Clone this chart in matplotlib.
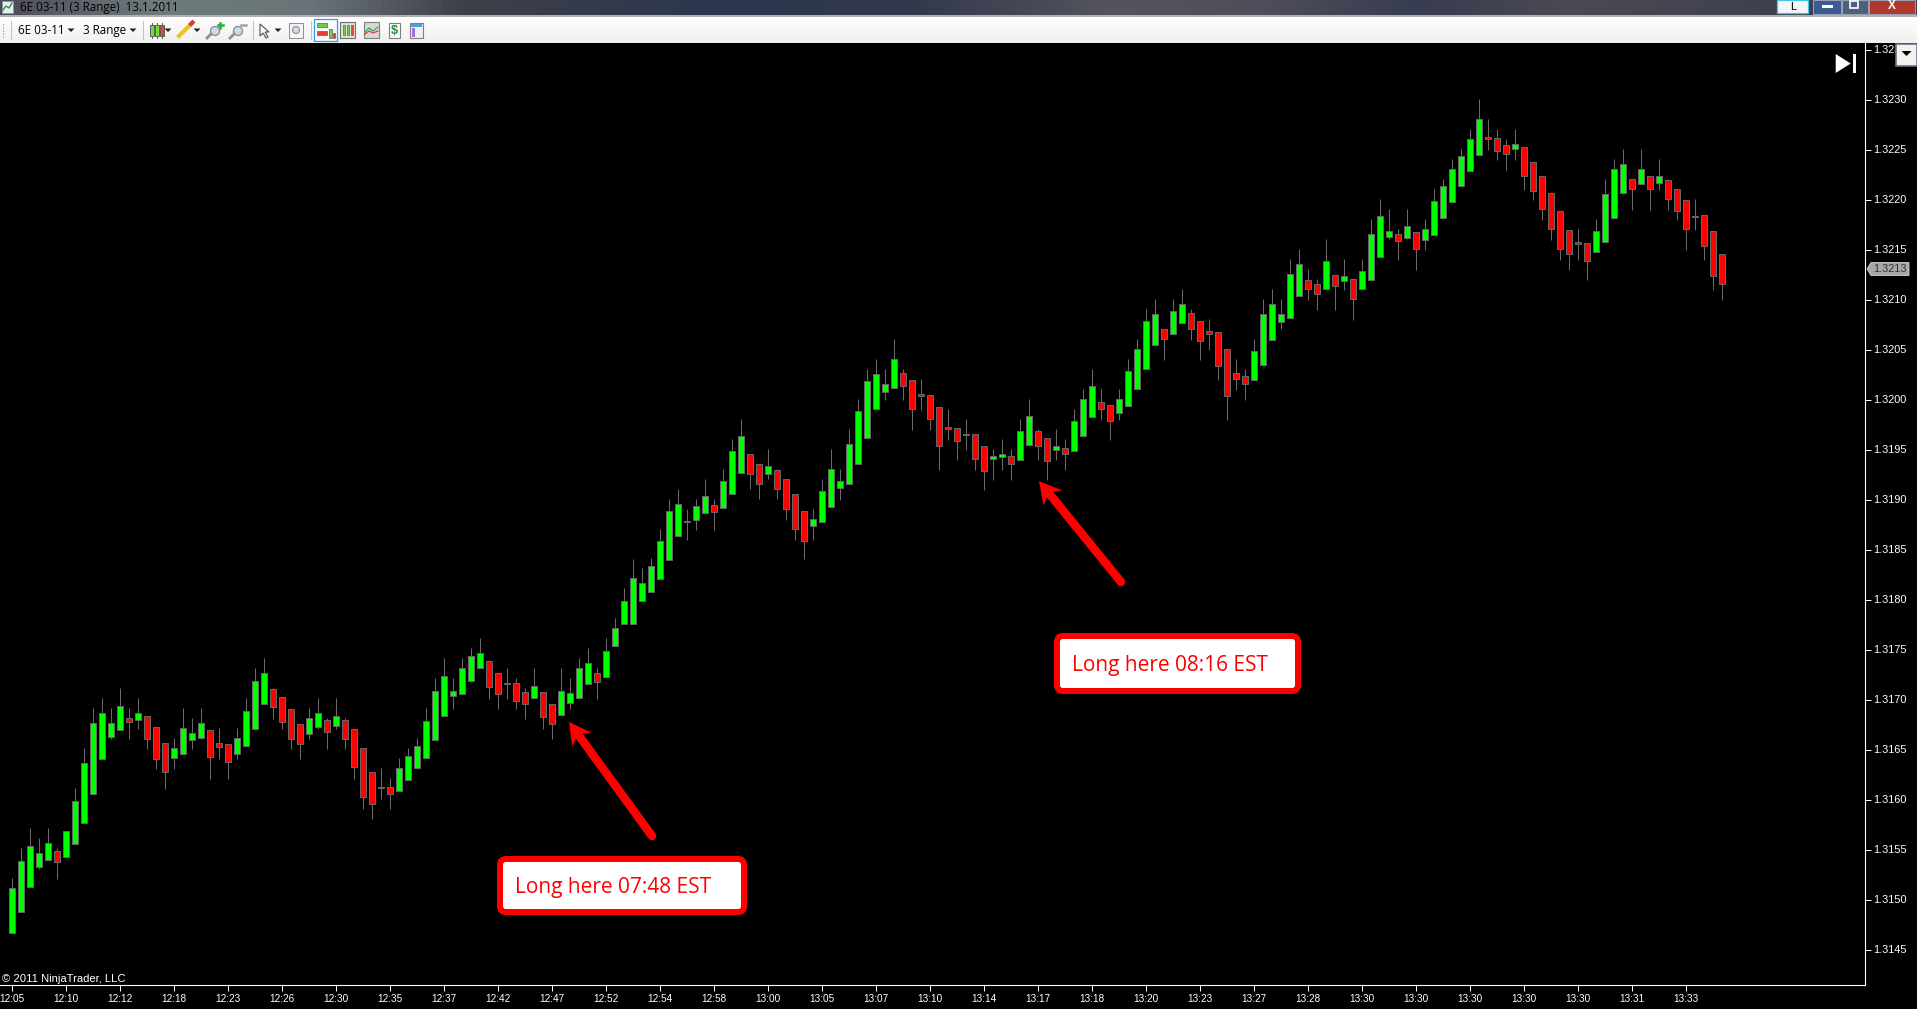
import numpy as np
import matplotlib
matplotlib.use("Agg")
import matplotlib.pyplot as plt
from matplotlib.patches import FancyBboxPatch, Polygon, Rectangle
from matplotlib.colors import LinearSegmentedColormap

# ---- data: prices are pips above the base price ----
BASE_PRICE = 1.3100
PIP = 0.0001
directions = ("GGGGGRGGGG" "GGGRGRRRGG" "GGRRRGGGGR" "RRRGGRGRRR" "RDRGGGGGGG"
              "GGGRRDRRGR" "RGGGGRGGGG" "GGGGGDGGRG" "GGRRGRRRRG" "GGGGGGGGGR"
              "RRRRRRDRRG" "GRGGRRGRGG" "GRRGGGGGRG" "GRRRRRRRGG" "GGGGRRGRGR"
              "GGGGRGRGGG" "GGGGRRRGRR" "RRRRRRGGGG" "RGRGRRRDRR" "R")
highs = [52.2,55.2,57.2,56.2,57.2,55.2,56.9,61.2,65.2,69.2,
         70.2,69.2,71.2,69.2,70.2,68.4,67.3,65.7,66.2,69.2,
         68.2,69.2,67.0,67.2,65.6,67.2,70.2,73.2,74.2,71.2,
         70.3,69.1,67.6,69.2,70.2,68.2,70.2,68.2,67.1,65.2,
         62.8,63.2,62.2,64.2,65.2,66.2,69.2,72.2,74.2,72.2,
         74.2,75.2,76.2,73.9,72.7,73.2,72.2,71.2,73.2,70.8,
         69.6,73.2,72.2,74.2,75.2,73.2,76.2,78.2,81.2,84.1,
         83.2,84.2,87.1,90.1,91.1,89.1,90.1,92.1,90.1,93.1,
         96.1,98.1,94.6,93.6,95.1,93.1,92.1,90.6,88.9,89.1,
         92.1,95.1,93.1,97.1,100.1,103.1,104.1,103.1,106.1,103.1,
         102.0,102.1,100.5,99.3,99.1,97.2,98.1,96.6,95.4,95.1,
         96.1,95.1,98.1,100.1,97.1,96.2,97.1,96.1,99.1,101.1,
         103.1,101.1,99.5,101.1,104.1,106.1,109.1,110.1,107.1,110.1,
         111.1,109.1,107.9,108.1,106.8,105.1,104.1,103.1,106.1,110.1,
         111.1,110.1,114.1,115.1,113.1,112.1,116.1,112.5,114.1,112.1,
         114.1,118.1,120.1,119.1,117.1,119.1,116.8,118.1,121.1,122.1,
         124.1,125.1,127.1,130.1,128.1,127.1,126.1,127.1,125.3,123.8,
         122.4,120.7,118.9,117.0,117.1,115.7,118.1,122.1,124.1,125.1,
         122.1,125.1,122.4,124.1,122.1,121.1,120.0,120.1,118.5,116.9,
         114.6]
body_tops = [51.2,53.9,55.4,54.7,55.7,54.9,56.9,59.9,63.7,67.7,
             68.7,67.7,69.4,68.2,68.7,68.4,67.3,65.7,65.2,67.2,
             66.7,67.7,67.0,65.7,65.6,66.2,68.9,71.9,72.7,71.1,
             70.3,69.1,67.6,68.2,68.7,68.0,68.4,68.0,67.1,65.2,
             62.8,61.3,61.3,63.2,64.4,65.4,67.9,70.9,72.4,70.9,
             73.2,74.4,74.7,73.9,72.7,71.7,71.7,70.8,71.4,70.8,
             69.6,70.9,70.7,73.2,73.7,72.7,74.9,77.2,79.9,82.2,
             81.7,83.4,85.9,88.9,89.6,87.9,89.4,90.4,89.5,91.9,
             94.9,96.4,94.6,93.6,93.4,93.0,92.1,90.6,88.9,88.1,
             90.9,93.1,91.9,95.6,98.9,101.9,102.6,101.6,104.1,102.7,
             102.0,100.6,100.5,99.3,97.3,97.2,96.6,96.6,95.4,94.4,
             94.6,94.4,96.9,98.4,96.9,96.2,95.4,95.2,97.9,100.1,
             101.4,99.8,99.5,100.1,102.9,105.1,107.9,108.6,107.1,108.9,
             109.6,108.7,107.9,106.9,106.8,105.1,102.7,102.4,104.9,108.6,
             109.6,108.6,112.6,113.6,112.0,111.6,113.9,112.5,112.4,112.1,
             112.9,116.6,118.4,116.9,116.6,117.4,116.8,117.1,119.9,121.4,
             123.1,124.4,126.1,128.1,126.3,126.2,125.5,125.6,125.3,123.8,
             122.4,120.7,118.9,117.0,115.8,115.7,116.9,120.6,123.1,123.6,
             122.1,123.1,122.4,122.4,122.0,121.1,120.0,118.4,118.5,116.9,
             114.6]
body_bottoms = [46.7,48.8,51.3,53.3,54.0,53.8,54.3,55.6,57.7,60.6,
                64.1,66.3,67.0,67.8,68.0,66.1,64.1,62.8,64.2,64.6,
                66.0,66.2,64.3,65.3,63.8,64.6,65.4,67.1,69.6,69.3,
                67.8,66.1,65.6,66.6,67.3,66.8,67.4,66.1,63.3,60.3,
                59.6,61.2,60.6,60.9,62.0,63.2,64.2,66.0,68.4,70.4,
                70.6,71.9,73.2,71.3,70.6,71.6,69.9,69.6,70.2,68.3,
                67.6,68.5,69.7,70.2,71.6,71.8,72.3,75.4,77.6,77.6,
                79.9,80.8,82.1,84.0,86.4,87.8,88.0,88.7,88.8,89.2,
                90.6,92.7,92.6,91.6,92.6,91.1,89.1,87.1,85.9,87.4,
                87.8,89.3,91.2,91.6,93.6,96.2,99.1,100.8,101.2,101.4,
                99.1,100.4,98.1,95.4,97.1,95.9,96.5,94.1,92.9,94.1,
                94.3,93.6,94.0,95.5,95.4,93.9,95.0,94.6,94.9,96.4,
                98.3,99.1,97.9,98.7,99.4,101.1,103.1,105.5,106.1,106.6,
                107.7,107.1,105.9,106.6,103.4,100.4,102.1,101.6,102.0,103.5,
                106.0,107.8,108.2,110.4,111.1,110.6,111.1,111.4,111.9,110.1,
                111.1,112.0,114.3,116.3,115.9,116.2,115.1,116.0,116.5,118.2,
                119.8,121.4,122.9,124.5,126.1,124.9,124.6,125.1,122.4,120.9,
                119.1,117.1,115.1,114.6,115.6,113.9,114.8,115.8,118.2,120.7,
                121.1,121.6,121.1,121.7,120.1,118.9,117.1,118.3,115.4,112.4,
                111.6]
lows = [46.7,48.8,51.3,53.1,54.0,52.1,54.3,55.6,57.7,60.6,
        64.1,66.1,67.0,66.1,67.1,65.1,63.1,61.1,63.1,64.6,
        65.1,66.1,62.1,64.1,62.1,64.1,65.4,67.1,69.6,68.1,
        67.1,65.1,64.1,66.1,67.1,65.1,67.1,65.1,62.1,59.1,
        58.1,60.1,59.1,60.9,62.0,63.1,64.2,66.0,68.4,69.1,
        70.6,71.9,73.2,70.1,69.1,70.1,69.1,68.1,70.2,67.1,
        66.1,68.5,69.1,70.2,71.6,70.1,72.3,75.4,77.6,77.6,
        79.9,80.8,82.1,84.0,86.4,86.0,87.0,88.7,87.0,89.2,
        90.6,92.7,91.1,90.1,92.1,90.1,88.0,86.0,84.1,86.0,
        87.8,89.3,90.0,91.6,93.6,96.2,99.1,100.0,101.2,100.0,
        97.0,99.0,97.0,93.0,96.0,94.0,95.0,93.0,91.0,92.0,
        93.0,92.0,94.0,95.5,94.0,92.0,94.0,93.0,94.9,96.4,
        98.3,98.0,96.0,98.0,99.4,101.1,103.1,105.5,104.0,106.6,
        107.7,106.0,104.0,105.0,102.0,98.0,101.0,100.0,102.0,103.5,
        106.0,107.1,108.2,110.4,110.0,109.0,111.1,109.0,111.0,108.0,
        111.1,112.0,114.3,116.1,114.0,116.1,113.0,115.0,116.5,118.2,
        119.8,121.4,122.9,124.5,125.0,124.0,123.0,124.0,121.0,120.0,
        118.0,116.0,114.0,113.0,114.0,112.0,114.8,115.8,118.2,120.7,
        119.0,121.6,119.0,121.0,119.0,118.0,115.0,117.0,114.0,111.0,
        110.0]
time_labels = ["12:05","12:10","12:12","12:18","12:23","12:26","12:30","12:35",
               "12:37","12:42","12:47","12:52","12:54","12:58","13:00","13:05",
               "13:07","13:10","13:14","13:17","13:18","13:20","13:23","13:27",
               "13:28","13:30","13:30","13:30","13:30","13:30","13:31","13:33"]
price_ticks = [1.3145,1.3150,1.3155,1.3160,1.3165,1.3170,1.3175,1.3180,1.3185,1.3190,
               1.3195,1.3200,1.3205,1.3210,1.3215,1.3220,1.3225,1.3230,1.3235]
LAST_PRICE = 1.3213
TICK_EVERY = 6

# ---- layout ----
W, H = 1917, 1009
PX_RIGHT, PX_TOP, PX_BOTTOM = 1865.0, 43.0, 985.0
BAR_SPACING, FIRST_BAR_PX = 9.0, 12.0
px = 0.72
SANS = ["Liberation Sans", "DejaVu Sans"]
UI = ["Open Sans", "DejaVu Sans"]

fig = plt.figure(figsize=(W / 100, H / 100), dpi=100, facecolor="black")
ax = fig.add_axes([0, (H - PX_BOTTOM) / H, PX_RIGHT / W, (PX_BOTTOM - PX_TOP) / H])
ax.set_facecolor("black")

def to_price(values):
    return BASE_PRICE + np.asarray(values) * PIP

idx = np.arange(len(highs))
colors = {"G": "#00ff00", "R": "#ff0000", "D": "#666666"}
ax.vlines(idx, to_price(lows), to_price(highs), color="#6a6a6a", lw=px, zorder=2)
ax.bar(idx, to_price(body_tops) - to_price(body_bottoms), width=6 / BAR_SPACING,
       bottom=to_price(body_bottoms), color=[colors[d] for d in directions],
       edgecolor="#666666", linewidth=px, zorder=3)

ax.set_xlim(-FIRST_BAR_PX / BAR_SPACING, (PX_RIGHT - FIRST_BAR_PX) / BAR_SPACING)
ax.set_ylim(to_price(140 - PX_BOTTOM / 10), to_price(140 - PX_TOP / 10))
ax.set_xticks(idx[::TICK_EVERY][:len(time_labels)])
ax.set_xticklabels(time_labels, family=SANS, fontsize=7.2, color="white")
ax.set_yticks(price_ticks)
ax.set_yticklabels([f"{p:.4f}" for p in price_ticks], family=SANS, fontsize=7.8, color="white")
ax.yaxis.tick_right()
ax.tick_params(axis="both", length=4.3, width=px, color="white", pad=2)
ax.tick_params(axis="y", pad=1.5)
ax.tick_params(axis="x", pad=2.5)
for label in ax.get_yticklabels():
    label.set_verticalalignment("center")
for name, sp in ax.spines.items():
    sp.set_visible(name in ("right", "bottom"))
    sp.set_color("white")
    sp.set_linewidth(0.8)

# ---- overlay in pixel coordinates: window chrome and annotations ----
ov = fig.add_axes([0, 0, 1, 1], zorder=10)
ov.patch.set_visible(False)
ov.axis("off")

title_cmap = LinearSegmentedColormap.from_list("title", [
    (0.00, "#4c4c58"), (0.08, "#6e7a7c"), (0.16, "#6a7478"), (0.24, "#3e4048"),
    (0.38, "#2c3650"), (0.48, "#343a4c"), (0.58, "#54545e"), (0.66, "#4e4e5a"),
    (0.74, "#383c50"), (0.82, "#4a4a52"), (1.00, "#383a4e")])
ov.imshow(np.linspace(0, 1, 512)[None, :], cmap=title_cmap, aspect="auto",
          extent=(0, W, 16, 0), zorder=1)
tool_cmap = LinearSegmentedColormap.from_list("tool", ["#ffffff", "#f0f0f0"])
ov.imshow(np.linspace(0, 1, 32)[:, None], cmap=tool_cmap, aspect="auto",
          extent=(0, W, PX_TOP, 17), zorder=1)
ov.add_patch(Rectangle((0, 15), W, 2, fc="#b0b0b4", ec="none", zorder=2))

def rect(x0, y0, x1, y1, fc, ec="none", lw=0.0, z=3):
    ov.add_patch(Rectangle((x0, y0), x1 - x0, y1 - y0, fc=fc, ec=ec, lw=lw, zorder=z))

def tri(x, y, s=3.5, c="#202020"):
    ov.add_patch(Polygon([(x - s, y - 1.5), (x + s, y - 1.5), (x, y + 2)], fc=c, ec="none", zorder=4))

def vsep(x):
    ov.plot([x, x], [21, 39], color="#c0c0c0", lw=px, zorder=3)

# title row
rect(2, 1, 13, 13, "#e8eef4", "#8898a8", px)
ov.plot([3, 6, 9, 12], [10, 6, 8, 3], color="#20a040", lw=1.0, zorder=4)
ov.text(20, 7.5, "6E 03-11 (3 Range)  13.1.2011", family=UI, fontsize=8.35, color="black",
        va="center", ha="left", zorder=5)

# window buttons
rect(1777, 0, 1808, 13, "#f4f6f8", "#40c8e8", 0.9)
ov.text(1793, 6.5, "L", family=SANS, fontsize=8, color="black", ha="center", va="center", zorder=5)
rect(1813, 0, 1841, 14, "#3c5a96", "#9aa4b4", 0.7)
rect(1822, 5, 1833, 8, "#ffffff", z=4)
rect(1842, 0, 1868, 14, "#50607a", "#9aa4b4", 0.7)
rect(1850, 1, 1858, 8, "none", "#ffffff", 1.2, z=4)
rect(1869, 0, 1915, 14, "#b0382c", "#9aa4b4", 0.7)
ov.text(1892, 6, "X", family=SANS, fontsize=8.5, fontweight="bold", color="white", ha="center",
        va="center", zorder=5)

# toolbar
for y in (24, 27, 30, 33, 36):
    rect(2.5, y, 4, y + 1.5, "#b0b0b0")
for x in (11, 143, 253, 311):
    vsep(x)
ov.text(18, 30.5, "6E 03-11", family=UI, fontsize=8.35, color="black", va="center", ha="left", zorder=5)
tri(71, 30)
ov.text(83, 30.5, "3 Range", family=UI, fontsize=8.35, color="black", va="center", ha="left", zorder=5)
tri(133, 30)
for x, c in ((152, "#70e030"), (157, "#70e030"), (162, "#f04030")):
    ov.plot([x, x], [23, 38], color="#606060", lw=px, zorder=3)
    rect(x - 2, 25, x + 2, 36, c, "#606060", px)
tri(168, 30)
ov.plot([179, 191], [36, 24], color="#f0c020", lw=3, zorder=4)
ov.plot([191, 192.5], [24, 22.5], color="#d04040", lw=3, zorder=4)
tri(197, 30)
for x0, mark in ((207, "#20b040"), (230, "#a0a0a0")):
    ov.add_patch(plt.Circle((x0 + 8, 31), 4.5, fc="#c8dcec", ec="#909090", lw=1, zorder=4))
    ov.plot([x0, x0 + 4], [38, 34], color="#909090", lw=2, zorder=4)
    ov.plot([x0 + 11, x0 + 16], [25, 25], color=mark, lw=1.8, zorder=4)
ov.plot([219.5, 219.5], [22.5, 27.5], color="#20b040", lw=1.8, zorder=4)
ov.add_patch(Polygon([(260, 24), (260, 36), (263, 33), (266, 38), (268, 37), (265, 32), (269, 32)],
                     fc="white", ec="#505050", lw=0.8, zorder=4))
tri(278, 30)
rect(289, 23, 303, 38, "#f4f4f4", "#909090", px)
ov.add_patch(plt.Circle((296, 30), 3.5, fc="#c8dcec", ec="#909090", lw=0.8, zorder=4))
rect(314, 19, 337, 41, "#f8fbfe", "#3a9ae8", 0.9)
rect(317, 23, 327, 27, "#70d040", "#606060", 0.5, z=4)
rect(317, 31, 327, 35, "#e84030", "#606060", 0.5, z=4)
rect(329, 29, 332, 38, "#70d040", "#606060", 0.5, z=4)
rect(333, 33, 335, 38, "#e84030", "#606060", 0.5, z=4)
rect(340, 22, 355, 38, "#e0e0e0", "#707070", 0.8)
for x, c in ((344, "#70d040"), (348, "#70d040"), (352, "#e84030")):
    rect(x - 1.3, 25, x + 1.3, 35, c, "#505050", 0.4, z=4)
rect(364, 22, 379, 38, "#d8d8d8", "#808080", 0.8)
ov.plot([365, 369, 373, 378], [32, 28, 31, 27], color="#30b050", lw=0.9, zorder=4)
ov.plot([365, 369, 373, 378], [34, 31, 33, 31], color="#e04040", lw=0.9, zorder=4)
rect(389, 23, 400, 38, "#fafafa", "#808080", 0.8)
ov.text(394.5, 31, "$", family=SANS, fontsize=9, fontweight="bold", color="#209040", ha="center",
        va="center", zorder=5)
rect(410, 23, 423, 38, "#f0f0f4", "#808080", 0.8)
rect(411, 24, 422, 27, "#50a0d8", z=4)
rect(412, 28, 415, 37, "#a070e0", z=4)

# skip-to-end button, dropdown and last-price marker
ov.add_patch(Polygon([(1835.7, 54), (1835.7, 73), (1850.7, 63.5)], fc="white", ec="none", zorder=5))
rect(1852.7, 54, 1855.7, 73, "white", z=5)
rect(1896, 44, 1917, 66, "#f2f2f2", "#667686", 1.2, z=6)
ov.add_patch(Polygon([(1901.5, 51), (1911.5, 51), (1906.5, 56)], fc="black", ec="none", zorder=7))
ov.add_patch(Polygon([(1867, 269), (1871, 262.5), (1909, 262.5), (1909, 275.5), (1871, 275.5)],
                     fc="#a8a8a8", ec="#d0d0d0", lw=0.6, zorder=6))
ov.text(1890, 269.2, f"{LAST_PRICE:.4f}", family=SANS, fontsize=7.8, color="#303030",
        ha="center", va="center", zorder=7)
ov.text(2, 979.5, "\u00a9 2011 NinjaTrader, LLC", family=SANS, fontsize=8.1, color="white",
        ha="left", va="center", zorder=5)

# annotations
def arrow(tail, tip):
    tail, tip = np.asarray(tail, float), np.asarray(tip, float)
    u = (tip - tail) / np.hypot(*(tip - tail))
    n = np.array([-u[1], u[0]])
    neck = tip - 15 * u
    ov.plot([tail[0], neck[0]], [tail[1], neck[1]], color="#ff0000", lw=8.5 * px,
            solid_capstyle="round", zorder=6)
    ov.add_patch(Polygon([tip, tip - 22 * u + 12 * n, neck, tip - 22 * u - 12 * n],
                         fc="#ff0000", ec="none", zorder=6))

def note(x0, y0, x1, y1, text_x, label):
    ov.add_patch(FancyBboxPatch((x0, y0), x1 - x0, y1 - y0, boxstyle="round,pad=0,rounding_size=6",
                                fc="white", ec="#ff0000", lw=6 * px, zorder=6))
    ov.text(text_x, (y0 + y1) / 2 + 1.5, label, family=UI, fontsize=15.0, color="#ff0000",
            ha="left", va="center", zorder=7)

arrow((652, 836), (569, 722))
note(500, 859, 744, 912, 515, "Long here 07:48 EST")
arrow((1121, 582), (1039, 481))
note(1057, 636, 1298, 691, 1072, "Long here 08:16 EST")

ov.set_xlim(0, W)
ov.set_ylim(H, 0)

fig.savefig("out.png", dpi=100, facecolor="black")
